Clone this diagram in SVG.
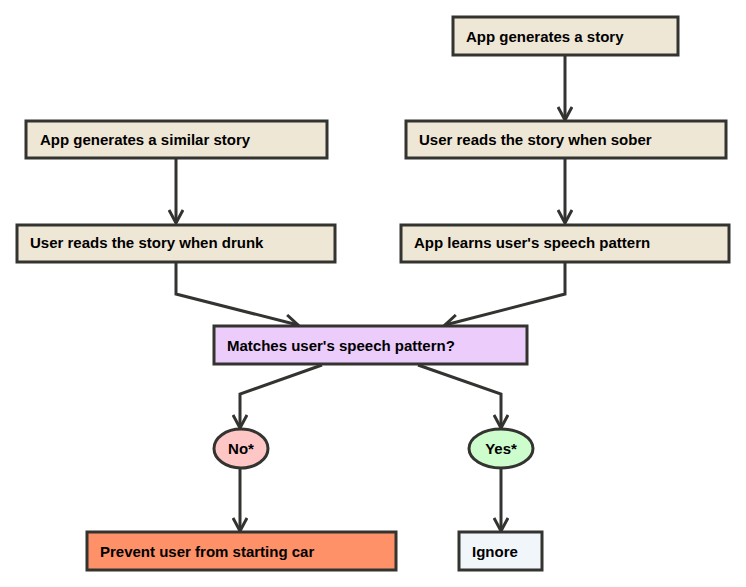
<svg xmlns="http://www.w3.org/2000/svg" width="746" height="587" viewBox="0 0 746 587">
<style>
.n{stroke:#333330;stroke-width:3}
.b{fill:#efe7d5}
.t{font-family:"Liberation Sans",Arial,sans-serif;font-weight:bold;font-size:15px;fill:#000}
.c{fill:none;stroke:#333330;stroke-width:3}
</style>
<defs>
<marker id="a" viewBox="0 0 16 16" refX="14" refY="8" markerWidth="16" markerHeight="16" markerUnits="userSpaceOnUse" orient="auto">
<path d="M1,1 L14,8 L1,15" fill="none" stroke="#333330" stroke-width="3"/>
</marker>
</defs>
<rect width="746" height="587" fill="#fff"/>
<g id="connectors">
<path class="c" d="M565,56 V120" marker-end="url(#a)"/>
<path class="c" d="M565,159 V223" marker-end="url(#a)"/>
<path class="c" d="M176,159 V223" marker-end="url(#a)"/>
<path class="c" d="M176,263 V294 L298,325" marker-end="url(#a)"/>
<path class="c" d="M565,263 V294 L445,325" marker-end="url(#a)"/>
<path class="c" d="M322,365 L240,394 V428" marker-end="url(#a)"/>
<path class="c" d="M418,365 L501,394 V428" marker-end="url(#a)"/>
<path class="c" d="M240,469 V531" marker-end="url(#a)"/>
<path class="c" d="M501,469 V531" marker-end="url(#a)"/>
</g>
<g id="n1"><rect class="n b" x="453" y="17" width="225" height="38"/><text class="t" x="466" y="42">App generates a story</text></g>
<g id="n2"><rect class="n b" x="406" y="121" width="320" height="37"/><text class="t" x="419" y="145">User reads the story when sober</text></g>
<g id="n3"><rect class="n b" x="26" y="121" width="301" height="37"/><text class="t" x="40" y="145">App generates a similar story</text></g>
<g id="n4"><rect class="n b" x="17" y="225" width="318" height="37"/><text class="t" x="30" y="248">User reads the story when drunk</text></g>
<g id="n5"><rect class="n b" x="401" y="225" width="328" height="37"/><text class="t" x="414" y="248">App learns user's speech pattern</text></g>
<g id="n6"><rect class="n" fill="#ebccfb" x="214" y="326" width="313" height="38"/><text class="t" x="227" y="351">Matches user's speech pattern?</text></g>
<g id="n7"><ellipse class="n" fill="#ffc6c6" cx="241" cy="448.5" rx="27" ry="19.5"/><text class="t" x="241" y="454" text-anchor="middle">No*</text></g>
<g id="n8"><ellipse class="n" fill="#cdfccd" cx="501" cy="448.5" rx="32" ry="19.5"/><text class="t" x="501" y="454" text-anchor="middle">Yes*</text></g>
<g id="n9"><rect class="n" fill="#ff9169" x="87" y="532" width="309" height="38"/><text class="t" x="100" y="557">Prevent user from starting car</text></g>
<g id="n10"><rect class="n" fill="#f0f6fa" x="459" y="532" width="83" height="38"/><text class="t" x="472" y="557">Ignore</text></g>
</svg>
